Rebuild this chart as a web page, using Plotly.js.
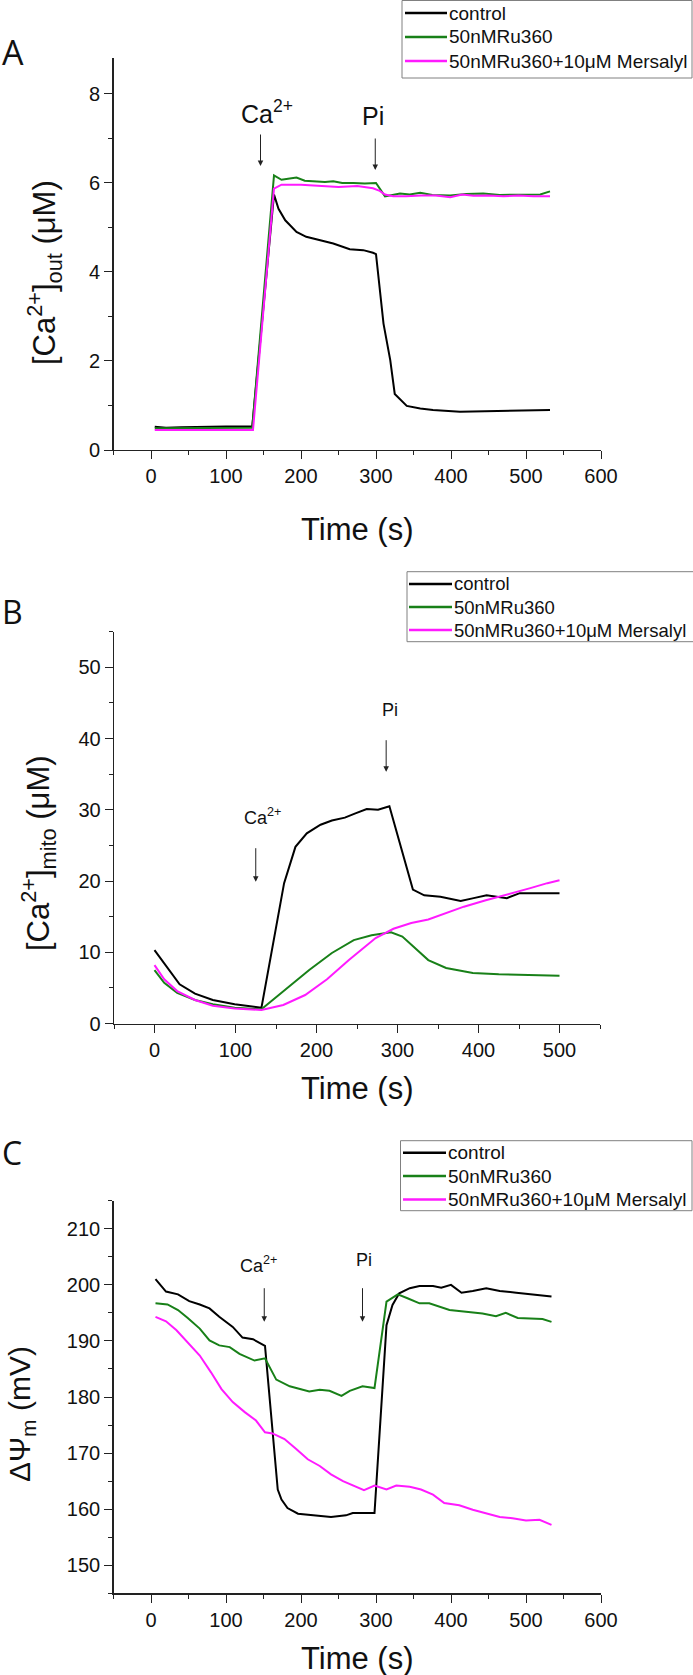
<!DOCTYPE html>
<html>
<head>
<meta charset="utf-8">
<script src="https://cdn.plot.ly/plotly-3.0.1.min.js"></script>
<style>html,body{margin:0;padding:0;background:#fff;}#chart{width:693px;height:1675px;}</style>
</head>
<body>
<div id="chart"></div>
<script>
// ---------- DATA ----------
const seriesNames = ["control", "50nMRu360", "50nMRu360+10\u03bcM Mersalyl"];
const seriesColors = ["#000000", "#188018", "#ff1aff"];

// Panel A: [Ca2+]out (uM)
const tA_control = [5, 20, 40, 60, 80, 100, 120, 135, 164, 170, 179, 194, 207, 225, 243, 265, 283, 296, 300, 310, 319, 325, 341, 359, 376, 412, 465, 532];
const vA_control = [0.52, 0.50, 0.51, 0.52, 0.52, 0.53, 0.53, 0.53, 5.74, 5.42, 5.16, 4.90, 4.79, 4.71, 4.64, 4.51, 4.49, 4.43, 4.40, 2.84, 2.02, 1.26, 0.99, 0.93, 0.90, 0.86, 0.88, 0.90];
const tA_ru = [5, 135, 164, 174, 185, 194, 205, 221, 232, 243, 255, 270, 285, 300, 312, 322, 332, 345, 359, 375, 399, 420, 443, 465, 488, 505, 519, 532];
const vA_ru = [0.49, 0.50, 6.17, 6.07, 6.10, 6.12, 6.05, 6.04, 6.02, 6.04, 6.00, 6.00, 5.99, 6.00, 5.70, 5.73, 5.76, 5.74, 5.78, 5.73, 5.72, 5.75, 5.76, 5.73, 5.74, 5.75, 5.74, 5.81];
const tA_mer = [5, 136, 164, 174, 200, 225, 250, 275, 296, 305, 312, 323, 340, 360, 380, 399, 415, 430, 450, 470, 490, 510, 532];
const vA_mer = [0.45, 0.45, 5.87, 5.96, 5.96, 5.93, 5.91, 5.93, 5.88, 5.82, 5.74, 5.70, 5.70, 5.72, 5.72, 5.68, 5.74, 5.71, 5.72, 5.70, 5.72, 5.70, 5.70];

// Panel B: [Ca2+]mito (uM)
const tB_control = [0, 15, 31, 50, 72, 99, 120, 132, 160, 174, 188, 205, 219, 235, 248, 262, 276, 290, 319, 333, 353, 378, 394, 410, 435, 451, 476, 500];
const vB_control = [10.3, 8.0, 5.5, 4.2, 3.3, 2.7, 2.4, 2.2, 19.7, 24.8, 26.7, 27.9, 28.5, 28.9, 29.5, 30.1, 30.0, 30.5, 18.8, 18.0, 17.8, 17.2, 17.6, 18.0, 17.6, 18.3, 18.3, 18.3];
const tB_ru = [0, 12, 28, 50, 72, 99, 132, 159, 191, 219, 246, 268, 292, 306, 322, 338, 360, 393, 425, 464, 500];
const vB_ru = [7.5, 5.7, 4.3, 3.3, 2.7, 2.2, 2.0, 4.5, 7.5, 9.9, 11.7, 12.4, 12.8, 12.2, 10.6, 8.9, 7.8, 7.1, 6.9, 6.8, 6.7];
const tB_mer = [0, 12, 28, 50, 72, 99, 132, 159, 186, 213, 240, 273, 295, 317, 338, 360, 382, 409, 436, 464, 485, 500];
const vB_mer = [8.2, 6.2, 4.55, 3.3, 2.5, 2.1, 1.9, 2.6, 4.0, 6.2, 8.9, 12.0, 13.3, 14.1, 14.6, 15.5, 16.4, 17.3, 18.1, 19.0, 19.7, 20.1];

// Panel C: Delta Psi m (mV)
const tC_control = [6, 20, 36, 51, 65, 78, 91, 109, 122, 136, 152, 169, 174, 182, 196, 216, 240, 260, 269, 282, 298, 314, 322, 331, 345, 358, 376, 387, 400, 414, 429, 447, 465, 487, 509, 534];
const vC_control = [201.0, 198.8, 198.3, 197.1, 196.5, 195.8, 194.3, 192.5, 190.6, 190.3, 189.1, 163.5, 161.7, 160.2, 159.2, 158.9, 158.6, 158.9, 159.3, 159.3, 159.3, 192.8, 196.4, 198.5, 199.4, 199.8, 199.8, 199.5, 200.0, 198.6, 198.9, 199.4, 198.9, 198.6, 198.3, 197.9];
const tC_ru = [6, 22, 36, 49, 65, 78, 91, 105, 118, 138, 152, 167, 185, 211, 225, 238, 254, 265, 282, 298, 314, 329, 342, 358, 371, 398, 420, 442, 460, 473, 489, 509, 522, 534];
const vC_ru = [196.7, 196.5, 195.5, 194.1, 192.2, 190.1, 189.2, 188.9, 187.7, 186.5, 186.9, 183.1, 181.9, 181.0, 181.3, 181.1, 180.2, 181.1, 181.9, 181.6, 197.0, 198.3, 197.6, 196.7, 196.7, 195.5, 195.2, 194.9, 194.4, 195.0, 194.1, 194.0, 193.9, 193.4];
const tC_mer = [6, 20, 34, 49, 65, 80, 94, 109, 125, 140, 152, 162, 178, 194, 209, 225, 240, 256, 271, 284, 298, 314, 327, 345, 360, 376, 391, 411, 429, 447, 465, 482, 500, 518, 534];
const vC_mer = [194.3, 193.5, 191.9, 189.8, 187.4, 184.4, 181.4, 179.1, 177.3, 175.8, 173.7, 173.5, 172.5, 170.7, 168.9, 167.7, 166.2, 165.0, 164.1, 163.4, 164.2, 163.5, 164.2, 164.0, 163.5, 162.6, 161.1, 160.7, 159.9, 159.3, 158.6, 158.4, 158.0, 158.1, 157.2];

// Event markers (time of addition, s)
const eventsA = {ca: 146, pi: 299};
const eventsB = {ca: 125, pi: 286};
const eventsC = {ca: 151, pi: 282};

// ---------- LAYOUT HELPERS ----------
const W = 693, H = 1675;
const px = x => x / W;
const py = y => 1 - y / H;
const FONT = "'Liberation Sans', Arial, sans-serif";
const AXC = "#222";

function mkTrace(t, v, i, ax) {
  return {
    x: t, y: v, type: "scatter", mode: "lines",
    name: seriesNames[i], line: {color: seriesColors[i], width: 2},
    xaxis: "x" + ax, yaxis: "y" + ax, showlegend: false
  };
}
const data = [
  mkTrace(tA_control, vA_control, 0, ""),
  mkTrace(tA_ru, vA_ru, 1, ""),
  mkTrace(tA_mer, vA_mer, 2, ""),
  mkTrace(tB_control, vB_control, 0, "2"),
  mkTrace(tB_ru, vB_ru, 1, "2"),
  mkTrace(tB_mer, vB_mer, 2, "2"),
  mkTrace(tC_control, vC_control, 0, "3"),
  mkTrace(tC_ru, vC_ru, 1, "3"),
  mkTrace(tC_mer, vC_mer, 2, "3")
];

function xAxis(dom, range, anchor) {
  return {
    domain: dom, range: range, anchor: anchor, dtick: 100, tick0: 0,
    ticks: "outside", ticklen: 8, tickwidth: 1, tickcolor: AXC,
    showline: true, linewidth: 1.3, linecolor: AXC,
    showgrid: false, zeroline: false,
    tickfont: {family: FONT, size: 20, color: "#111"},
    minor: {dtick: 50, ticks: "outside", ticklen: 4, tickwidth: 1, tickcolor: AXC, showgrid: false}
  };
}
function yAxis(dom, range, dtick, anchor) {
  return {
    domain: dom, range: range, anchor: anchor, dtick: dtick, tick0: 0,
    ticks: "outside", ticklen: 8, tickwidth: 1, tickcolor: AXC,
    showline: true, linewidth: 1.3, linecolor: AXC,
    showgrid: false, zeroline: false,
    tickfont: {family: FONT, size: 20, color: "#111"},
    minor: {dtick: dtick / 2, ticks: "outside", ticklen: 4, tickwidth: 1, tickcolor: AXC, showgrid: false}
  };
}

const shapes = [];
const annotations = [];

// manual legend box: left, top, right, bottom, row centres, line x0/x1, text x
function addLegend(box, rows, lx0, lx1, tx, size) {
  shapes.push({type: "rect", xref: "paper", yref: "paper",
    x0: px(box[0]), x1: px(box[2]), y0: py(box[1]), y1: py(box[3]),
    line: {color: "#808080", width: 1}, fillcolor: "#fff", layer: "above"});
  rows.forEach((ry, i) => {
    shapes.push({type: "line", xref: "paper", yref: "paper",
      x0: px(lx0), x1: px(lx1), y0: py(ry), y1: py(ry),
      line: {color: seriesColors[i], width: 2.5}, layer: "above"});
    annotations.push({xref: "paper", yref: "paper", x: px(tx), y: py(ry), text: seriesNames[i],
      showarrow: false, xanchor: "left", yanchor: "middle", borderpad: 0,
      font: {family: FONT, size: size, color: "#111"}});
  });
}
addLegend([402, 0.5, 692, 78], [13, 37, 61], 405, 447, 448, 19);
addLegend([407, 571.7, 700, 641.7], [584, 607, 630], 409, 452, 453, 18.5);
addLegend([400.5, 1140.7, 692, 1210.7], [1152.7, 1176, 1199.5], 403, 446, 447, 19);

function arrow(xr, t, tipY, len) {
  return {xref: xr, yref: "paper", x: t, y: py(tipY), ax: 0, ay: -len, text: "",
          showarrow: true, arrowhead: 2, arrowsize: 1.1, arrowwidth: 1, arrowcolor: AXC, standoff: 0};
}
function label(xr, t, yc, txt, size) {
  return {xref: xr, yref: "paper", x: t, y: py(yc), text: txt, showarrow: false,
          xanchor: "center", yanchor: "middle", font: {family: FONT, size: size, color: "#111"}};
}
function ptext(x, y, txt, size, opts) {
  return Object.assign({xref: "paper", yref: "paper", x: px(x), y: py(y), text: txt, showarrow: false,
          xanchor: "center", yanchor: "middle", font: {family: FONT, size: size, color: "#111"}}, opts || {});
}

annotations.push(
  // panel letters
  ptext(0, 52, "A", 34, {xanchor: "left", font: {family: "'Open Sans', sans-serif", size: 34, color: "#111"}}),
  ptext(0, 611, "B", 32, {xanchor: "left", font: {family: "'Open Sans', sans-serif", size: 32, color: "#111"}}),
  ptext(0, 1152, "C", 32, {xanchor: "left", font: {family: "'Open Sans', sans-serif", size: 32, color: "#111"}}),
  // axis titles
  ptext(357, 530, "Time (s)", 31),
  ptext(357, 1088, "Time (s)", 31),
  ptext(357, 1658, "Time (s)", 31),
  ptext(45, 272, "[Ca<sup>2+</sup>]<sub>out</sub> (\u03bcM)", 31, {textangle: -90}),
  ptext(38, 853, "[Ca<sup>2+</sup>]<sub>mito</sub> (\u03bcM)", 31, {textangle: -90}),
  ptext(21, 1414, "\u0394\u03a8<sub>m</sub> (mV)", 30, {textangle: -90, borderpad: 0}),
  // event arrows and labels
  arrow("x", eventsA.ca, 166, 33), arrow("x", eventsA.pi, 170, 33),
  label("x", 154, 112, "Ca<sup>2+</sup>", 25), label("x", 296, 116, "Pi", 25),
  arrow("x2", eventsB.ca, 881.7, 35), arrow("x2", eventsB.pi, 771.7, 33),
  label("x2", 133, 816, "Ca<sup>2+</sup>", 18), label("x2", 291, 710, "Pi", 18),
  arrow("x3", eventsC.ca, 1321.7, 35), arrow("x3", eventsC.pi, 1321.7, 35),
  label("x3", 143, 1264, "Ca<sup>2+</sup>", 18), label("x3", 284, 1260, "Pi", 18)
);

const layout = {
  width: W, height: H, margin: {l: 0, r: 0, t: 0, b: 0},
  paper_bgcolor: "#fff", plot_bgcolor: "#fff", showlegend: false,
  font: {family: FONT, color: "#111"},
  xaxis: xAxis([px(113.5), px(601)], [-50, 600], "y"),
  yaxis: yAxis([py(450), py(58.3)], [0, 8.8], 2, "x"),
  xaxis2: xAxis([px(114), px(600)], [-50, 550], "y2"),
  yaxis2: yAxis([py(1023.5), py(631.7)], [0, 55], 10, "x2"),
  xaxis3: xAxis([px(113.5), px(601)], [-50, 600], "y3"),
  yaxis3: yAxis([py(1593.3), py(1200.7)], [145, 215], 10, "x3"),
  shapes: shapes,
  annotations: annotations
};

Plotly.newPlot("chart", data, layout, {staticPlot: true, displayModeBar: false});
</script>
</body>
</html>
